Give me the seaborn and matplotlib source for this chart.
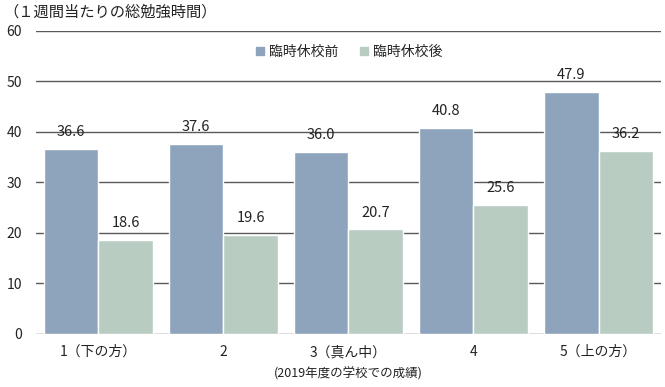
import pandas as pd
import matplotlib
matplotlib.use("Agg")
import matplotlib.pyplot as plt
import seaborn as sns
from matplotlib.lines import Line2D

# data
grades = ["1（下の方）", "2", "3（真ん中）", "4", "5（上の方）"]
series = ["臨時休校前", "臨時休校後"]
before = [36.6, 37.6, 36.0, 40.8, 47.9]
after = [18.6, 19.6, 20.7, 25.6, 36.2]
yticks = [0, 10, 20, 30, 40, 50, 60]

COLORS = {"臨時休校前": "#8DA4BC", "臨時休校後": "#B9CCC2"}

df = pd.DataFrame({
    "grade": grades * 2,
    "period": [series[0]] * len(grades) + [series[1]] * len(grades),
    "hours": before + after,
})

sns.set_theme(style="white")
plt.rcParams['font.family'] = ['Noto Sans CJK JP', 'DejaVu Sans']

fig = plt.figure(figsize=(6.65, 3.87), dpi=100)
ax = fig.add_axes([0.054, 0.137, 0.94, 0.783])

sns.barplot(data=df, x="grade", y="hours", hue="period", order=grades,
            hue_order=series, palette=COLORS, width=0.87, saturation=1,
            edgecolor="white", linewidth=1, ax=ax, legend=False, zorder=2)

for c in ax.containers:
    ax.bar_label(c, fmt="%.1f", padding=7, fontsize=10.5, color="#222222")

ax.set_ylim(0, 60)
ax.set_xlim(-0.5, 4.5)
ax.set_yticks(yticks)
ax.yaxis.grid(True, color="#595959", linewidth=1)
ax.set_axisbelow(True)
for s in ax.spines.values():
    s.set_visible(False)
ax.tick_params(axis="both", length=0, labelsize=10, colors="#222222")
ax.tick_params(axis="y", pad=10)
ax.tick_params(axis="x", pad=8)
ax.set_ylabel("")
ax.set_xlabel("(2019年度の学校での成績)", fontsize=9, color="#222222", labelpad=6)

handles = [Line2D([], [], marker="s", linestyle="", markersize=6,
                  color=COLORS[s]) for s in series]
ax.legend(handles, series, loc="upper center", bbox_to_anchor=(0.5, 0.995),
          ncol=2, frameon=False, fontsize=10, handletextpad=0.2,
          columnspacing=1.5, handlelength=0.8)

fig.text(0.005, 0.968, "（１週間当たりの総勉強時間）", fontsize=11,
         color="#222222", va="center")

fig.savefig("out.png", dpi=100)
